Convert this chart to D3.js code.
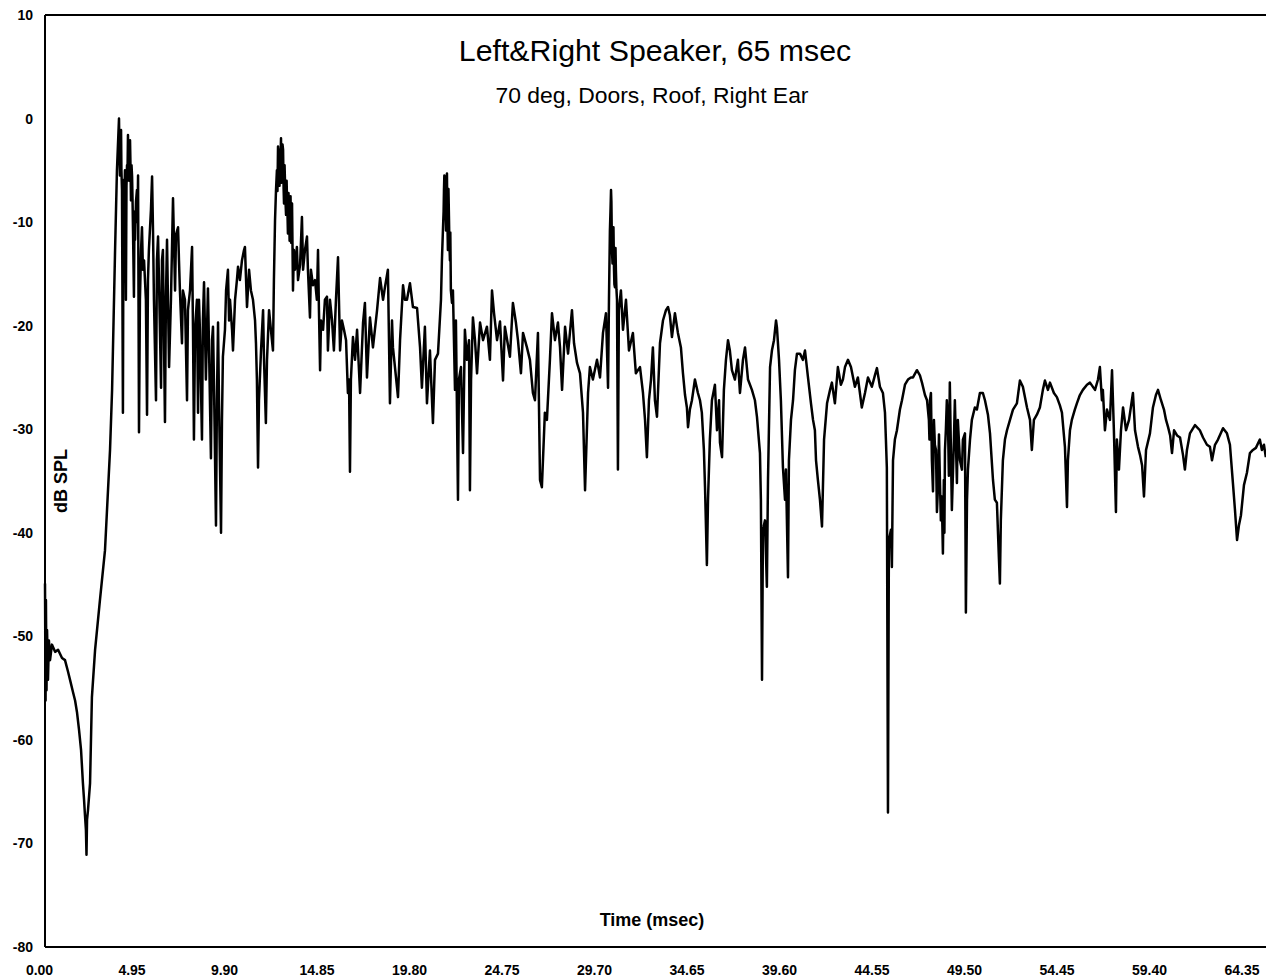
<!DOCTYPE html>
<html>
<head>
<meta charset="utf-8">
<script src="https://cdn.jsdelivr.net/npm/d3@7"></script>
<style>
  html, body { margin: 0; padding: 0; background: #fff; }
  svg { display: block; }
  .tick text { font-family: "Liberation Sans", Arial, sans-serif; font-weight: bold; fill: #000; }
</style>
</head>
<body>
<svg id="chart" width="1266" height="979"></svg>
<script>
// Energy-time response, level in dB SPL against time in ms, as [ms, dB] pairs.
const onset = [
  [0.00,-44.9],[0.03,-56.2],[0.05,-46.5],[0.08,-55.2],[0.11,-49.4],[0.16,-54.2],[0.21,-50.4],
  [0.27,-52.3],[0.37,-50.8],[0.54,-51.5],[0.70,-51.3],[0.91,-52.1],[1.07,-52.3],[1.23,-53.4],
  [1.34,-54.2],[1.50,-55.4],[1.61,-56.2],[1.71,-57.3],[1.82,-59.0],[1.93,-61.0],[2.03,-64.2],
  [2.09,-65.8],[2.14,-67.3],[2.19,-68.7],[2.22,-71.1],[2.25,-67.7],[2.30,-66.8],[2.41,-64.2],
  [2.51,-55.9],[2.68,-51.3],[2.94,-46.5],[3.21,-41.7],[3.48,-32.0],[3.59,-26.2],[3.75,-12.7],
  [3.85,-5.0],[3.96,0.0]
];

const earlyReflections = [
  [3.99,-4.0],[4.01,-5.5],[4.04,-3.0],[4.07,-1.1],[4.09,-5.0],[4.12,-6.9],[4.17,-28.4],[4.20,-8.0],
  [4.23,-5.9],[4.25,-7.5],[4.28,-5.0],[4.33,-17.5],[4.36,-6.5],[4.39,-4.5],[4.41,-6.0],[4.44,-1.6],
  [4.47,-5.5],[4.49,-3.0],[4.52,-6.0],[4.55,-2.1],[4.58,-5.0],[4.60,-7.9],[4.63,-4.5],[4.66,-5.6],
  [4.69,-8.5],[4.71,-10.8],[4.76,-17.2],[4.79,-9.0],[4.82,-11.7],[4.87,-8.0],[4.92,-6.9],[4.95,-10.0],
  [4.98,-5.5],[5.03,-30.3],[5.08,-17.5],[5.14,-12.7],[5.19,-10.5],[5.24,-14.6],[5.30,-13.7],
  [5.40,-17.5],[5.46,-28.6],[5.51,-15.6],[5.56,-12.7],[5.67,-8.8],[5.73,-5.6],[5.78,-10.8],[5.83,-17.5],
  [5.94,-27.2],[5.99,-13.7],[6.05,-11.4],[6.10,-15.6],[6.21,-26.0],[6.26,-13.7],[6.31,-12.7],[6.42,-29.3],
  [6.47,-17.5],[6.53,-11.7],[6.58,-17.5],[6.64,-24.0],[6.74,-17.5],[6.85,-7.7],[6.90,-11.7],[6.96,-16.6],
  [7.01,-11.2],[7.12,-10.5],[7.17,-13.7],[7.22,-16.6],[7.33,-21.7],[7.38,-16.6],[7.49,-17.5],[7.60,-27.2],
  [7.65,-18.5],[7.76,-16.6],[7.87,-12.4],[7.92,-20.4],[7.97,-31.0],[8.03,-20.4],[8.13,-17.5],[8.19,-28.4],
  [8.24,-17.5],[8.29,-20.4],[8.40,-31.0],[8.45,-19.5],[8.51,-15.8],[8.56,-20.4],[8.61,-25.2],[8.72,-16.4],
  [8.78,-22.4],[8.88,-32.8],[8.94,-21.4],[8.99,-20.1],[9.04,-25.2],[9.15,-39.3],[9.20,-27.2],[9.26,-19.7],
  [9.31,-27.2],[9.42,-40.0],[9.47,-29.1],[9.52,-23.0],[9.63,-20.4],[9.69,-16.6],[9.79,-14.6],[9.85,-19.5],
  [9.90,-17.5],[10.01,-20.4],[10.06,-22.4],[10.17,-17.5],[10.27,-15.6],[10.33,-14.3],[10.43,-15.6],
  [10.54,-13.7],[10.65,-12.7],[10.70,-12.4],[10.76,-15.6],[10.81,-18.2],[10.92,-14.6],[11.02,-16.6],
  [11.13,-17.5],[11.24,-19.5],[11.29,-21.7],[11.34,-25.2],[11.40,-33.7],[11.45,-27.2],[11.56,-22.4],
  [11.67,-18.5],[11.72,-23.3],[11.82,-29.4],[11.88,-23.3],[11.99,-18.5],[12.09,-20.4],[12.20,-22.4],
  [12.25,-15.6],[12.31,-9.8],[12.36,-7.0],[12.41,-5.0],[12.44,-7.0],[12.47,-2.7],[12.49,-3.5],
  [12.52,-5.9],[12.55,-6.5],[12.57,-3.0],[12.60,-4.0],[12.63,-1.9],[12.65,-6.2],[12.68,-5.0],
  [12.71,-2.5],[12.74,-3.0],[12.77,-6.8],[12.79,-8.2],[12.82,-4.5],[12.84,-5.9],[12.87,-8.0],
  [12.90,-9.3],[12.93,-6.0],[12.95,-7.9],[12.98,-9.5],[13.00,-11.1],[13.03,-7.2],[13.06,-8.8],
  [13.09,-11.8],[13.11,-10.8],[13.14,-7.5],[13.17,-12.0],[13.19,-9.0],[13.22,-8.2],
  [13.27,-16.6],[13.32,-12.7],[13.38,-14.6],[13.48,-12.4],
  [13.54,-15.6],[13.65,-14.1],[13.75,-9.5],[13.81,-14.6],[13.91,-12.7],[14.02,-11.4],[14.07,-14.6],
  [14.18,-19.2],[14.23,-14.6],[14.34,-16.1],[14.45,-15.6],[14.55,-17.5],[14.61,-12.7],[14.66,-18.5],
  [14.72,-24.3],[14.77,-19.5],[14.88,-20.4],[14.98,-17.5],[15.09,-17.2],[15.14,-22.4],[15.25,-17.5],
  [15.36,-19.5],[15.46,-22.4],[15.57,-17.5],[15.68,-13.4],[15.73,-17.5],[15.79,-22.4],[15.89,-19.5],
  [16.00,-20.4],[16.11,-21.4],[16.21,-26.5],[16.27,-25.2],[16.32,-34.1],[16.37,-25.2],[16.48,-21.1],
  [16.59,-23.3]
];

const midDecay = [
  [16.70,-20.4],[16.86,-26.5],[17.02,-19.7],[17.12,-17.8],[17.23,-25.0],[17.39,-19.2],[17.55,-22.1],
  [17.77,-18.5],[17.93,-15.4],[18.09,-17.5],[18.19,-16.3],[18.35,-14.6],[18.46,-27.5],[18.57,-19.5],
  [18.62,-22.1],[18.84,-26.0],[18.89,-26.9],[19.00,-21.4],[19.16,-16.1],[19.26,-17.5],[19.37,-17.5],
  [19.53,-15.9],[19.69,-18.2],[19.91,-18.3],[20.07,-22.1],[20.17,-26.0],[20.33,-20.1],[20.44,-27.5],
  [20.60,-22.4],[20.76,-29.4],[20.87,-23.3],[21.03,-22.7],[21.19,-17.5],[21.24,-13.7],[21.30,-10.5],
  [21.33,-9.0],[21.35,-6.9],[21.37,-5.5],[21.40,-5.9],[21.43,-8.0],[21.46,-10.8],[21.48,-6.5],
  [21.51,-5.3],[21.53,-9.5],[21.56,-12.7],[21.59,-6.8],[21.62,-9.8],[21.64,-12.0],[21.67,-13.7],
  [21.69,-11.0],[21.72,-16.6],[21.78,-17.8],[21.83,-16.6],[21.94,-26.2],[21.99,-19.5],[22.10,-36.8],[22.15,-25.2],
  [22.26,-24.0],[22.37,-32.3],[22.47,-20.4],[22.58,-23.3],[22.69,-21.4],[22.74,-35.9],[22.80,-25.2],
  [22.90,-19.2],[23.01,-21.4],[23.12,-24.6],[23.28,-19.7],[23.44,-21.4],[23.65,-20.1],[23.81,-23.3],
  [23.92,-16.6],[24.03,-18.8],[24.19,-21.4],[24.35,-19.6],[24.51,-25.3],[24.61,-20.1],[24.88,-23.0],
  [25.04,-17.8],[25.20,-19.7],[25.31,-21.4],[25.47,-24.6],[25.58,-20.7],[25.79,-22.1],[25.95,-23.3],
  [26.11,-26.5],[26.22,-27.2],[26.38,-20.7],[26.49,-34.9],[26.59,-35.6],[26.75,-28.4],[26.86,-29.1],
  [27.02,-23.3],[27.13,-18.8],[27.29,-21.4],[27.45,-19.7],[27.56,-22.1],[27.67,-26.2],[27.83,-20.1],
  [27.99,-22.7],[28.20,-18.5],[28.31,-21.7],[28.47,-23.6],[28.63,-24.6],[28.79,-28.4],[28.90,-35.9],
  [29.06,-26.5],[29.16,-24.0],[29.32,-25.2],[29.54,-23.3],[29.70,-25.0],[29.86,-20.7],[30.02,-18.8],
  [30.13,-26.0],[30.18,-17.5],[30.23,-10.8],[30.26,-9.0],[30.29,-6.9],[30.31,-8.0],[30.34,-12.7],
  [30.37,-14.0],[30.39,-11.7],[30.42,-10.5],[30.45,-14.6],[30.47,-16.0],[30.50,-16.3],[30.53,-12.5],
  [30.55,-14.6],[30.58,-16.5],[30.61,-17.5],[30.66,-33.9],[30.71,-18.5],[30.82,-16.6],[30.93,-20.4],
  [31.09,-17.5],[31.25,-22.4],[31.46,-20.7],[31.62,-24.6],[31.84,-24.0],[32.00,-26.5],[32.11,-29.1],
  [32.21,-32.7],[32.32,-27.2],[32.43,-25.2],[32.53,-22.1],[32.64,-27.2],[32.75,-28.8]
];

const lateDecay = [
  [32.91,-21.7],[33.07,-19.5],[33.23,-18.5],[33.34,-18.2],[33.44,-19.0],[33.55,-21.1],[33.71,-18.8],
  [33.87,-20.7],[34.03,-22.1],[34.14,-24.6],[34.25,-26.7],[34.35,-27.9],[34.41,-29.8],[34.51,-28.1],
  [34.62,-27.2],[34.78,-25.2],[34.94,-26.5],[35.05,-27.2],[35.15,-28.4],[35.26,-32.0],[35.32,-35.6],
  [35.42,-43.1],[35.48,-36.8],[35.58,-31.0],[35.69,-27.2],[35.85,-25.7],[35.96,-30.1],[36.07,-27.2],
  [36.12,-31.3],[36.23,-32.7],[36.33,-26.2],[36.44,-23.3],[36.55,-21.4],[36.65,-22.4],[36.76,-24.3],
  [36.92,-25.2],[37.08,-23.3],[37.19,-26.5],[37.35,-23.3],[37.46,-22.1],[37.62,-25.2],[37.83,-26.2],
  [37.99,-27.2],[38.10,-28.8],[38.26,-32.3],[38.31,-36.8],[38.37,-54.2],[38.42,-39.7],[38.53,-38.8],
  [38.63,-45.2],[38.69,-34.9],[38.80,-24.0],[38.90,-22.4],[39.01,-21.4],[39.12,-19.5],[39.17,-20.2],
  [39.28,-23.3],[39.38,-27.2],[39.49,-33.7],[39.60,-36.8],[39.65,-33.9],[39.76,-44.3],[39.81,-33.0],
  [39.92,-29.1],[40.03,-27.2],[40.13,-24.3],[40.24,-22.7],[40.40,-22.7],[40.56,-23.3],[40.67,-22.4],
  [40.83,-25.0],[40.99,-27.5],[41.10,-29.1],[41.20,-30.1],[41.26,-33.0],[41.36,-34.9],[41.47,-36.8],
  [41.58,-39.4],[41.69,-31.0],[41.85,-27.5],[42.01,-26.2],[42.11,-25.5],[42.27,-27.5],[42.43,-24.0],
  [42.59,-25.7],[42.70,-25.2],[42.81,-24.0],[42.97,-23.3],[43.13,-24.0],[43.34,-25.9],[43.50,-25.0],
  [43.71,-27.9],[43.88,-26.5],[44.04,-25.0],[44.25,-25.9],[44.41,-24.8],[44.52,-24.1],[44.68,-25.9],
  [44.84,-26.5],[44.95,-28.4],[45.00,-31.0],[45.05,-33.7],[45.11,-67.0],[45.16,-40.7],[45.27,-39.7],
  [45.32,-43.3],[45.38,-33.0],[45.48,-31.0],[45.59,-30.1],[45.75,-28.1],[45.86,-27.2],[46.02,-25.7],
  [46.18,-25.2],[46.34,-25.0],[46.45,-25.0],[46.66,-24.3],[46.82,-24.8],[46.93,-25.5],[47.09,-26.7],
  [47.20,-27.2],[47.30,-29.1],[47.33,-31.0],[47.36,-27.2],[47.41,-26.5],[47.46,-33.0],[47.52,-36.0],
  [47.57,-29.1],[47.62,-31.5],[47.68,-32.0],[47.73,-38.0],[47.78,-35.9],[47.84,-30.5],[47.89,-34.9],
  [47.94,-38.8],[47.99,-36.5],[48.05,-42.0],[48.10,-34.9],[48.13,-40.0],[48.16,-32.0],[48.21,-30.0],
  [48.26,-27.2],[48.32,-29.1],[48.37,-34.5],
  [48.42,-25.5],[48.53,-37.8],[48.64,-31.0],[48.69,-27.2],[48.80,-35.2],[48.85,-29.1],[48.96,-33.0],
  [49.07,-33.9],[49.12,-31.0],[49.23,-30.4],[49.28,-47.7],[49.34,-36.8],[49.39,-33.9],[49.50,-31.0],
  [49.60,-29.1],[49.76,-27.9],[49.87,-28.1],[50.03,-26.5],[50.19,-26.5],[50.30,-27.2],[50.46,-28.6],
  [50.57,-30.4],[50.73,-34.9],[50.83,-36.8],[50.94,-37.1],[51.05,-42.6],[51.10,-44.9],[51.15,-38.8],
  [51.26,-33.0],[51.37,-31.0],[51.48,-30.1],[51.64,-29.1],[51.80,-28.1],[52.01,-27.5],[52.17,-25.3],
  [52.33,-25.9],[52.55,-27.9],[52.71,-29.1],[52.81,-32.0],[52.92,-29.1],[53.08,-28.6],[53.24,-27.9],
  [53.40,-26.2],[53.51,-25.3],[53.67,-26.2],[53.78,-25.5],[53.99,-26.5],[54.15,-26.9],[54.31,-27.7],
  [54.42,-28.4],[54.58,-31.7],[54.69,-37.5],[54.74,-33.0],[54.85,-30.1],[54.95,-29.1],[55.11,-28.1],
  [55.22,-27.5],[55.38,-26.7],[55.54,-26.2],[55.76,-25.7],[55.92,-25.5],[56.19,-26.2],[56.35,-25.2],
  [56.45,-24.0],[56.56,-27.2],[56.61,-26.2],[56.72,-30.1],[56.83,-28.1],[56.99,-29.1],[57.10,-24.3],
  [57.20,-30.1],[57.31,-38.0],[57.36,-31.0],[57.47,-33.9],[57.58,-30.1],[57.69,-27.9],[57.85,-30.1],
  [58.01,-29.1],[58.22,-26.5],[58.33,-30.1],[58.49,-31.7],[58.60,-32.5],[58.71,-33.5],[58.81,-36.5],
  [58.92,-32.0],[59.13,-30.4],[59.29,-27.9],[59.45,-26.7],[59.56,-26.2],[59.72,-27.2],[59.88,-28.1],
  [59.99,-29.1],[60.10,-29.8],[60.21,-30.6],[60.31,-32.3],[60.42,-30.1],[60.58,-30.6],[60.74,-30.8],
  [60.90,-32.5],[61.00,-33.9],[61.11,-32.0],[61.27,-30.4],[61.54,-29.6],[61.80,-30.1],[61.97,-30.8],
  [62.18,-31.5],[62.34,-31.7],[62.45,-33.0],[62.61,-31.5],[62.77,-31.0],[63.04,-29.9],[63.25,-30.4],
  [63.41,-31.5],[63.57,-35.2],[63.68,-37.8],[63.79,-40.7],[63.89,-39.3],[64.00,-38.3],[64.16,-35.4],
  [64.32,-34.2],[64.48,-32.3],[64.64,-32.0],[64.80,-31.8],[65.01,-31.0],[65.12,-32.0],[65.23,-31.5],
  [65.33,-32.7]
];

const xTickValues = [0, 4.95, 9.90, 14.85, 19.80, 24.75, 29.70, 34.65, 39.60, 44.55, 49.50, 54.45, 59.40, 64.35];
const yTickValues = [10, 0, -10, -20, -30, -40, -50, -60, -70, -80];

const titleText = "Left&Right Speaker, 65 msec";
const subtitleText = "70 deg, Doors, Roof, Right Ear";
const xTitle = "Time (msec)";
const yTitle = "dB SPL";

const series = onset.concat(earlyReflections, midDecay, lateDecay);

const svg = d3.select("#chart");
const plotLeft = 45, plotTop = 15, plotBottom = 947, plotRight = 1266;

const x = d3.scaleLinear().domain([0, 64.35]).range([plotLeft, 1247.5]);
const y = d3.scaleLinear().domain([-80, 10]).range([plotBottom, plotTop]);

// frame: left, top and bottom edges
const frame = svg.append("g").attr("stroke", "#000").attr("stroke-width", 2).attr("fill", "none");
frame.append("line").attr("x1", x(0)).attr("x2", x(0)).attr("y1", y(10)).attr("y2", y(-80));
frame.append("line").attr("x1", x(0)).attr("x2", plotRight).attr("y1", y(10)).attr("y2", y(10));
frame.append("line").attr("x1", x(0)).attr("x2", plotRight).attr("y1", y(-80)).attr("y2", y(-80));

// axes (labels only; the frame provides the lines)
const xAxis = svg.append("g")
  .attr("transform", `translate(0,${plotBottom})`)
  .call(d3.axisBottom(x).tickValues(xTickValues).tickSize(0).tickFormat(d3.format(".2f")));
xAxis.select(".domain").remove();
xAxis.selectAll("text").attr("y", 28).attr("dy", 0).attr("dx", -6).style("font-size", "14px");

const yAxis = svg.append("g")
  .attr("transform", `translate(${plotLeft},0)`)
  .call(d3.axisLeft(y).tickValues(yTickValues).tickSize(0).tickPadding(12).tickFormat(d => String(d)));
yAxis.select(".domain").remove();
yAxis.selectAll("text").style("font-size", "14px");

// response trace
const line = d3.line().x(d => x(d[0])).y(d => y(d[1]));
svg.append("path")
  .datum(series)
  .attr("d", line)
  .attr("fill", "none")
  .attr("stroke", "#000")
  .attr("stroke-width", 2.5)
  .attr("stroke-linejoin", "round");

// titles
svg.append("text")
  .attr("x", 655).attr("y", 61)
  .attr("text-anchor", "middle")
  .style("font-family", "'Liberation Sans', Arial, sans-serif")
  .style("font-size", "30.3px")
  .text(titleText);

svg.append("text")
  .attr("x", 652).attr("y", 103)
  .attr("text-anchor", "middle")
  .style("font-family", "'Liberation Sans', Arial, sans-serif")
  .style("font-size", "22.9px")
  .text(subtitleText);

svg.append("text")
  .attr("x", 652).attr("y", 926)
  .attr("text-anchor", "middle")
  .style("font-family", "'Liberation Sans', Arial, sans-serif")
  .style("font-weight", "bold")
  .style("font-size", "18px")
  .text(xTitle);

svg.append("text")
  .attr("transform", "translate(67,481) rotate(-90)")
  .attr("text-anchor", "middle")
  .style("font-family", "'Liberation Sans', Arial, sans-serif")
  .style("font-weight", "bold")
  .style("font-size", "18px")
  .text(yTitle);
</script>
</body>
</html>
